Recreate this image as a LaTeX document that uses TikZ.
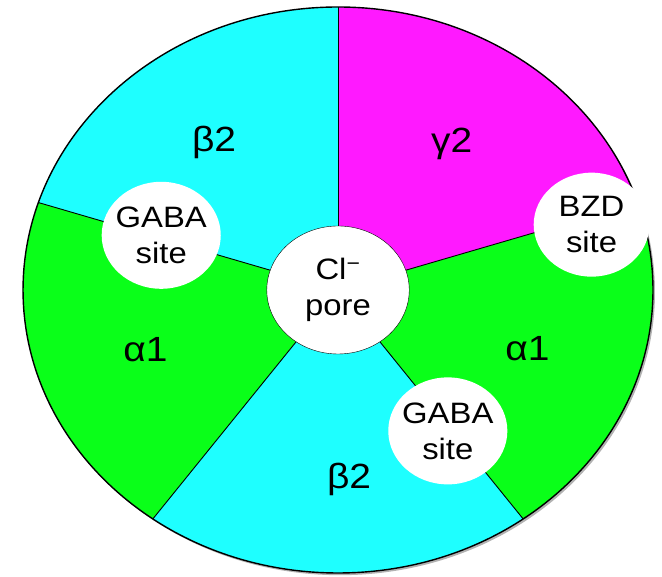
\documentclass[tikz,border=0pt]{standalone}
\usepackage{fontspec}
\setmainfont{Liberation Sans}
\usetikzlibrary{calc}
\definecolor{subcyan}{RGB}{30,255,255}
\definecolor{submagenta}{RGB}{255,25,255}
\definecolor{subgreen}{RGB}{10,255,25}
\tikzstyle{every node}=[transform shape]
\tikzstyle{site}=[circle, fill=white, minimum size=107pt, inner sep=0pt, align=center, font=\fontsize{29.5}{36}\selectfont]
\tikzstyle{unit}=[font=\fontsize{35}{40}\selectfont]

\begin{document}
\begin{tikzpicture}[x=1pt, y=1pt, xscale=1.113]
            \def\R{283}
            \useasboundingbox (-303.7,-287) rectangle (291.1,290);

            \coordinate (O) at (0, 0);
            \coordinate (P1) at (90:\R);
            \coordinate (P2) at (162:\R);
            \coordinate (P3) at (234:\R);
            \coordinate (P4) at (306:\R);
            \coordinate (P5) at (18:\R);

            % shadow and subunits
            \fill [black!30] (1.8,-2.2) circle (\R);
            \fill [subcyan] (O) -- (P1) arc (90:162:\R) -- cycle;
            \fill [subgreen] (O) -- (P2) arc (162:234:\R) -- cycle;
            \fill [subcyan] (O) -- (P3) arc (234:306:\R) -- cycle;
            \fill [subgreen] (O) -- (P4) arc (306:378:\R) -- cycle;
            \fill [submagenta] (O) -- (P5) arc (18:90:\R) -- cycle;
            \draw [line width=1.4pt] (O) circle (\R);

            \node [site, draw, minimum size=128pt] (pore) at (O) {Cl\textsuperscript{−}\\pore};

            \draw [line width=0.9pt] (pore.90) -- (P1);
            \draw [line width=0.9pt] (pore.162) -- (P2);
            \draw [line width=0.9pt] (pore.234) -- (P3);
            \draw [line width=0.9pt] (pore.306) -- (P4);
            \draw [line width=0.9pt] (pore.18) -- (P5);

            \node [unit] (b2top) at (127:185) {β2};
            \node [unit] (g2) at (55:178) {γ2};
            \node [unit] (a1right) at (-19:180) {α1};
            \node [unit] (a1left) at (199:183) {α1};
            \node [unit] (b2bot) at (273:190) {β2};

            \node [site] (gabaleft) at (161:168) {GABA\\site};
            \node [site] (gabaright) at (305:172) {GABA\\site};
            \node [site, minimum size=104pt] (bzd) at (16:237) {BZD\\site};
        \end{tikzpicture}
\end{document}
